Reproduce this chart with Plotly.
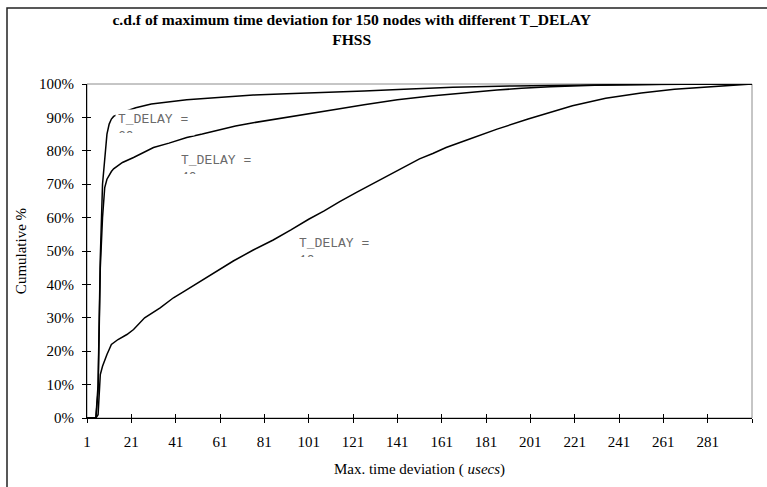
import plotly.graph_objects as go

# Cumulative distribution of the maximum time deviation (usecs), 150 nodes, FHSS
x_10 = [1, 5, 6, 7, 8, 9, 10, 11, 12, 15, 19, 22, 27, 34, 40, 45, 52, 60, 67, 76, 85, 93,
        101, 108, 115, 123, 133, 138, 145, 151, 157, 163, 173, 186, 200, 210, 220, 235,
        251, 266, 281, 296, 301]
y_10 = [0, 0, 1, 13, 15.5, 17.5, 19, 20.5, 22, 23.5, 25, 26.5, 30, 33, 36, 38, 40.8, 44,
        47, 50.3, 53.3, 56.3, 59.5, 62, 64.8, 67.7, 71.2, 72.9, 75.6, 77.6, 79.2, 81, 83.4,
        86.5, 89.5, 91.6, 93.5, 95.7, 97.3, 98.4, 99.2, 99.8, 100]

x_40 = [1, 5, 6, 7, 8, 9, 10, 11, 12, 13, 15, 17, 22, 27, 31, 38, 46, 53, 61, 68, 76, 84,
        91, 98, 106, 115, 126, 141, 156, 171, 186, 197, 210, 230, 260, 301]
y_40 = [0, 0, 8, 45, 60, 69, 71.5, 72.8, 73.8, 74.6, 75.6, 76.5, 78, 79.7, 81, 82.3, 84,
        85, 86.4, 87.4, 88.4, 89.3, 90.1, 90.9, 91.6, 92.6, 93.8, 95.3, 96.4, 97.4, 98.2,
        98.7, 99.2, 99.6, 99.9, 100]

x_60 = [1, 5, 6, 7, 8, 9, 10, 11, 12, 13, 17, 23, 30, 46, 61, 76, 91, 106, 115, 126, 144,
        166, 193, 210, 240, 270, 301]
y_60 = [0, 0, 10, 48, 70, 79, 85, 88, 89.5, 90.3, 91.5, 92.9, 94, 95.3, 96, 96.7, 97.1,
        97.4, 97.7, 97.9, 98.4, 99, 99.4, 99.6, 99.8, 99.9, 100]

series_names = ["T_DELAY = 10", "T_DELAY = 40", "T_DELAY = 60"]
label_values = ["10", "40", "60"]
# label anchor (x category, cumulative %) for each series
label_x = [95.35, 42.05, 13.65]
label_y = [55.3, 80.2, 92.6]

x_tickvals = list(range(1, 302, 20))
x_ticktext = [str(v) for v in x_tickvals[:-1]] + [""]
y_tickvals = list(range(0, 101, 10))
y_ticktext = [f"{v}%" for v in y_tickvals]

SERIF = "Liberation Serif"
MONO = "Liberation Mono"

fig = go.Figure()
for xs, ys, name in zip([x_10, x_40, x_60], [y_10, y_40, y_60], series_names):
    fig.add_trace(go.Scatter(x=xs, y=ys, mode="lines", name=name,
                             line=dict(color="black", width=1.5), showlegend=False))

# empty trace so the overlay axes (inner half of the crossing ticks) get drawn
fig.add_trace(go.Scatter(x=[], y=[], xaxis="x2", yaxis="y2", showlegend=False,
                         hoverinfo="skip"))

# series labels: white boxes, second line cut short by the fixed box height
annotations = []
for lx, ly, val in zip(label_x, label_y, label_values):
    annotations.append(dict(
        x=lx, y=ly, xref="x", yref="y", xanchor="left", yanchor="top",
        text="T_DELAY =<br>" + val, showarrow=False, align="left", valign="top",
        width=74, height=21, bgcolor="white", borderpad=2,
        font=dict(family=MONO, size=13, color="#6a6a6a")))

tickfont = dict(family=SERIF, size=15, color="black")

fig.update_layout(
    width=767, height=487,
    margin=dict(l=87, r=15, t=84, b=65),
    paper_bgcolor="white", plot_bgcolor="white",
    title=dict(text="<b>c.d.f of maximum time deviation for 150 nodes with different T_DELAY<br>FHSS</b>",
               x=0.398, xref="paper", xanchor="center",
               y=0.949, yref="container", yanchor="top",
               font=dict(family=SERIF, size=15.6, color="black")),
    xaxis=dict(range=[1, 301], tickvals=x_tickvals, ticktext=x_ticktext,
               ticks="outside", ticklen=4, tickcolor="black", tickwidth=1,
               showline=True, linecolor="black", linewidth=1,
               showgrid=False, zeroline=False, tickfont=tickfont,
               ticklabelstandoff=6,
               title=dict(text="Max. time deviation ( <i>usecs</i>)",
                          font=dict(family=SERIF, size=15, color="black"), standoff=14)),
    yaxis=dict(range=[0, 100], tickvals=y_tickvals, ticktext=y_ticktext,
               ticks="outside", ticklen=4, tickcolor="black", tickwidth=1,
               showline=True, linecolor="black", linewidth=1,
               showgrid=False, zeroline=False, tickfont=tickfont,
               ticklabelstandoff=5,
               title=dict(text="Cumulative %",
                          font=dict(family=SERIF, size=15, color="black"), standoff=8)),
    xaxis2=dict(overlaying="x", anchor="y", range=[1, 301], tickvals=x_tickvals,
                ticks="inside", ticklen=4, tickcolor="black", tickwidth=1,
                showticklabels=False, showline=False, showgrid=False, zeroline=False),
    yaxis2=dict(overlaying="y", anchor="x", side="left", range=[0, 100],
                tickvals=y_tickvals, ticks="inside", ticklen=4, tickcolor="black",
                tickwidth=1, showticklabels=False, showline=False, showgrid=False,
                zeroline=False),
    annotations=annotations,
    shapes=[
        # plot-area border (gray top and right edges)
        dict(type="rect", xref="paper", yref="paper", x0=0, x1=1, y0=0, y1=1,
             line=dict(color="#8c8c8c", width=1), layer="below"),
        # chart-area frame
        dict(type="rect", xref="paper", yref="paper",
             x0=(7 - 87) / 665, x1=(800 - 87) / 665,
             y0=(422 - 520) / 338, y1=(422 - 7) / 338,
             line=dict(color="#222222", width=1.5), layer="below"),
    ],
)

fig.write_html("out.html")
